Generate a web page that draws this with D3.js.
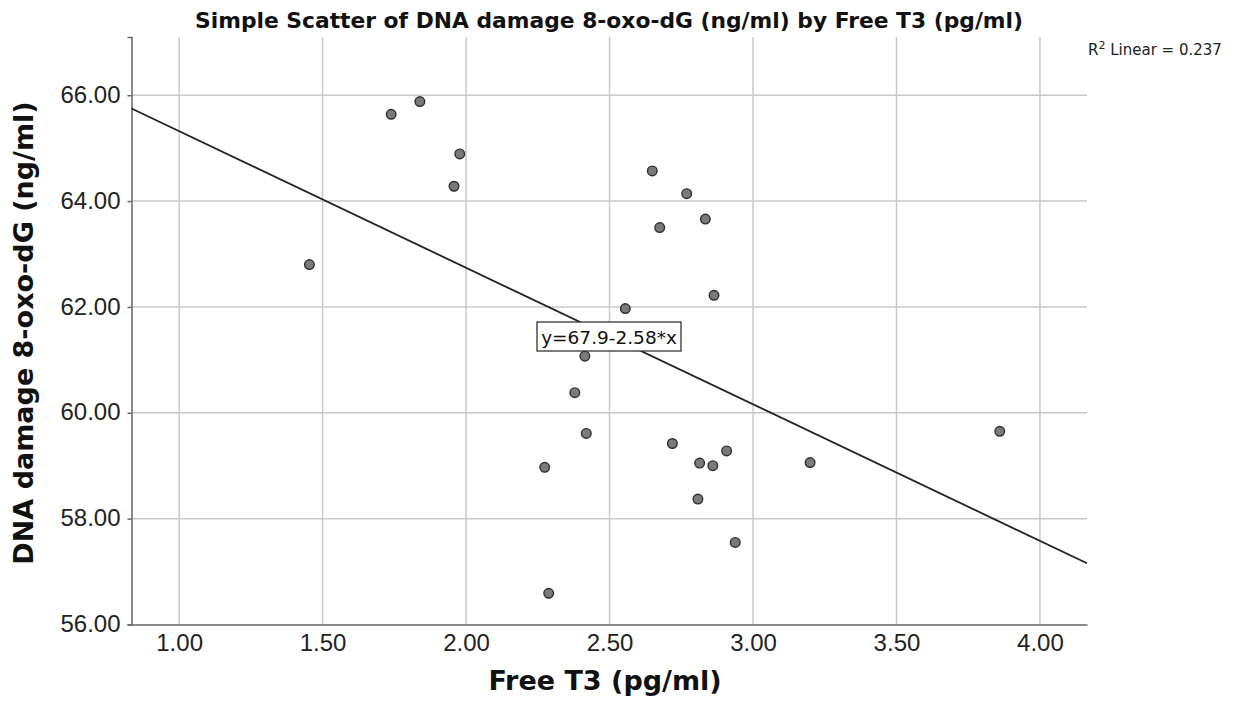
<!DOCTYPE html>
<html>
<head>
<meta charset="utf-8">
<script src="https://cdn.jsdelivr.net/npm/d3@7"></script>
<style>
  body { margin: 0; background: #fff; }
  svg { font-family: "DejaVu Sans", Verdana, sans-serif; }
  .grid line { stroke: #c8c8c8; stroke-width: 1.5; }
  .axis path, .axis line { stroke: #666; stroke-width: 1.5; }
  .axis text { fill: #222; font-size: 24px; }
</style>
</head>
<body>
<div id="chart"></div>
<script>
const FRAME_WIDTH = 1239;
const FRAME_HEIGHT = 709;
const MARGINS = {left: 131.5, right: 152, top: 37, bottom: 84.5};

const VIS_WIDTH = FRAME_WIDTH - MARGINS.left - MARGINS.right;
const VIS_HEIGHT = FRAME_HEIGHT - MARGINS.top - MARGINS.bottom;

// data
const FREE_T3 = [1.739, 1.839, 1.978, 1.958, 1.454,
                 2.649, 2.769, 2.834, 2.675, 2.864, 2.555,
                 2.414, 2.379, 2.419, 2.274, 2.719, 2.814, 2.860,
                 2.908, 3.199, 2.808, 2.938, 2.288, 3.860];
const DNA_DAMAGE = [65.64, 65.88, 64.89, 64.28, 62.80,
                    64.57, 64.14, 63.66, 63.50, 62.22, 61.97,
                    61.07, 60.38, 59.61, 58.97, 59.42, 59.05, 59.00,
                    59.28, 59.06, 58.37, 57.55, 56.59, 59.65];
const X_TICKS = [1.0, 1.5, 2.0, 2.5, 3.0, 3.5, 4.0];
const Y_TICKS = [56, 58, 60, 62, 64, 66];
const FIT = {intercept: 67.9, slope: -2.58, r2: 0.237};

const FRAME = d3.select("#chart")
  .append("svg")
    .attr("width", FRAME_WIDTH)
    .attr("height", FRAME_HEIGHT);

const X_SCALE = d3.scaleLinear()
  .domain([0.834, 4.164])
  .range([0, VIS_WIDTH]);

const Y_SCALE = d3.scaleLinear()
  .domain([56, 67.1])
  .range([VIS_HEIGHT, 0]);

const PLOT = FRAME.append("g")
  .attr("transform", "translate(" + MARGINS.left + "," + MARGINS.top + ")");

// gridlines
PLOT.append("g")
  .attr("class", "grid")
  .selectAll("line.v")
  .data(X_TICKS)
  .enter()
  .append("line")
    .attr("x1", (d) => X_SCALE(d))
    .attr("x2", (d) => X_SCALE(d))
    .attr("y1", 0)
    .attr("y2", VIS_HEIGHT);

PLOT.append("g")
  .attr("class", "grid")
  .selectAll("line.h")
  .data(Y_TICKS.slice(1))
  .enter()
  .append("line")
    .attr("x1", 0)
    .attr("x2", VIS_WIDTH)
    .attr("y1", (d) => Y_SCALE(d))
    .attr("y2", (d) => Y_SCALE(d));

// axes
PLOT.append("g")
  .attr("class", "axis")
  .attr("transform", "translate(0," + VIS_HEIGHT + ")")
  .call(d3.axisBottom(X_SCALE).tickValues(X_TICKS).tickFormat(d3.format(".2f"))
        .tickSizeOuter(0).tickSize(0).tickPadding(9));

PLOT.append("g")
  .attr("class", "axis")
  .call(d3.axisLeft(Y_SCALE).tickValues(Y_TICKS).tickFormat(d3.format(".2f"))
        .tickSizeOuter(0).tickSize(4).tickPadding(7))
  .selectAll(".tick text").attr("dy", "0.3em");

// regression line
const xd = X_SCALE.domain();
PLOT.append("line")
  .attr("x1", X_SCALE(xd[0]))
  .attr("y1", Y_SCALE(FIT.intercept + FIT.slope * xd[0]))
  .attr("x2", X_SCALE(xd[1]))
  .attr("y2", Y_SCALE(FIT.intercept + FIT.slope * xd[1]))
  .attr("stroke", "#222")
  .attr("stroke-width", 1.8);

// points
PLOT.selectAll("circle")
  .data(FREE_T3.map((x, i) => ({x: x, y: DNA_DAMAGE[i]})))
  .enter()
  .append("circle")
    .attr("cx", (d) => X_SCALE(d.x))
    .attr("cy", (d) => Y_SCALE(d.y))
    .attr("r", 4.8)
    .attr("fill", "#7a7a7a")
    .attr("stroke", "#2e2e2e")
    .attr("stroke-width", 1.4);

// equation label
const eq = PLOT.append("g")
  .attr("transform", "translate(" + (537 - MARGINS.left) + "," + (322 - MARGINS.top) + ")");
eq.append("rect")
  .attr("width", 144)
  .attr("height", 29)
  .attr("fill", "#fff")
  .attr("stroke", "#333")
  .attr("stroke-width", 1.3);
eq.append("text")
  .attr("x", 72)
  .attr("y", 21.5)
  .attr("text-anchor", "middle")
  .attr("font-size", "18.5px")
  .attr("fill", "#111")
  .text("y=" + FIT.intercept + "-" + Math.abs(FIT.slope) + "*x");

// title
FRAME.append("text")
  .attr("x", 609)
  .attr("y", 28)
  .attr("text-anchor", "middle")
  .attr("font-size", "21.8px")
  .attr("font-weight", "bold")
  .attr("fill", "#111")
  .text("Simple Scatter of DNA damage 8-oxo-dG (ng/ml) by Free T3 (pg/ml)");

// R2 text
const r2 = FRAME.append("text")
  .attr("x", 1088)
  .attr("y", 55)
  .attr("font-size", "15px")
  .attr("fill", "#222");
r2.append("tspan").text("R");
r2.append("tspan").attr("dy", "-6").attr("font-size", "11px").text("2");
r2.append("tspan").attr("dy", "6").text(" Linear = " + FIT.r2);

// axis titles
FRAME.append("text")
  .attr("x", 605)
  .attr("y", 690)
  .attr("text-anchor", "middle")
  .attr("font-size", "27px")
  .attr("font-weight", "bold")
  .attr("fill", "#111")
  .text("Free T3 (pg/ml)");

FRAME.append("text")
  .attr("transform", "translate(33," + 333 + ") rotate(-90)")
  .attr("text-anchor", "middle")
  .attr("font-size", "27px")
  .attr("font-weight", "bold")
  .attr("fill", "#111")
  .text("DNA damage 8-oxo-dG (ng/ml)");
</script>
</body>
</html>
